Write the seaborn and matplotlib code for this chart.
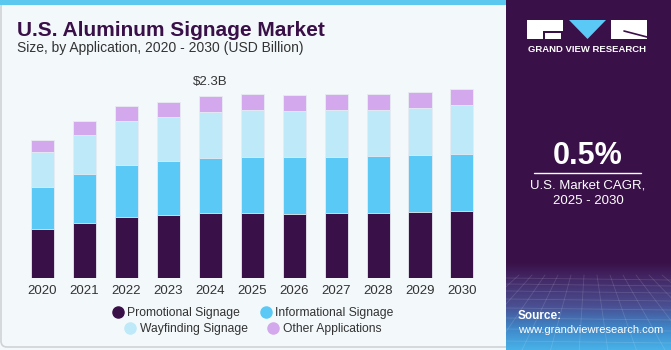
import numpy as np
import pandas as pd
import matplotlib
matplotlib.use("Agg")
import matplotlib.pyplot as plt
from matplotlib.patches import Rectangle, Polygon, FancyBboxPatch
from matplotlib.lines import Line2D
import seaborn as sns

# Data (USD Billion)
years = ["2020", "2021", "2022", "2023", "2024", "2025", "2026", "2027", "2028", "2029", "2030"]
promotional = [0.62, 0.70, 0.77, 0.79, 0.815, 0.82, 0.81, 0.815, 0.82, 0.83, 0.84]
informational = [0.53, 0.61, 0.66, 0.68, 0.70, 0.71, 0.71, 0.715, 0.715, 0.72, 0.73]
wayfinding = [0.44, 0.49, 0.55, 0.56, 0.58, 0.59, 0.59, 0.585, 0.59, 0.60, 0.61]
other = [0.15, 0.18, 0.185, 0.195, 0.20, 0.20, 0.20, 0.20, 0.20, 0.20, 0.20]
series = ["Promotional Signage", "Informational Signage", "Wayfinding Signage", "Other Applications"]
colors = ["#3a1048", "#5bc9f5", "#bde9f9", "#d4a8ec"]

BG = "#f3f8fb"
PURPLE = "#3a1048"

df = pd.DataFrame({"year": years, "Promotional Signage": promotional,
                   "Informational Signage": informational,
                   "Wayfinding Signage": wayfinding, "Other Applications": other})
cum = df[series].cumsum(axis=1)

sns.set_theme(style="white")
plt.rcParams["font.family"] = ["Liberation Sans", "DejaVu Sans"]

W, H = 671, 350
fig = plt.figure(figsize=(W / 100, H / 100), dpi=100)
fig.patch.set_facecolor(BG)

# frame for the left card
frame = fig.add_axes([0, 0, 1, 1])
frame.set_xlim(0, W)
frame.set_ylim(H, 0)
frame.axis("off")
frame.add_patch(FancyBboxPatch((1, 1), 510, 346, boxstyle="round,pad=0,rounding_size=6",
                               facecolor=BG, edgecolor="#cfd3d6", lw=1.2))
frame.add_patch(Rectangle((0, 0), 510, 5, facecolor="#5bc8f0", edgecolor="none"))

# chart axes: baseline at y=278px, bar pitch ~42px
ax = fig.add_axes([21.5 / W, (H - 278) / H, 461.4 / W, 198.2 / H])
ax.set_facecolor("none")
for name, col in reversed(list(zip(series, colors))):
    sns.barplot(x=df["year"], y=cum[name], color=col, width=0.55, ax=ax,
                edgecolor="#e8ecf2", linewidth=0.6, saturation=1)
ax.set_xlim(-0.5, 10.5)
ax.set_ylim(0, 2.5)
ax.set_xlabel("")
ax.set_ylabel("")
ax.set_yticks([])
ax.tick_params(axis="x", length=0, labelsize=9.5, labelcolor="#333333", pad=5)
sns.despine(ax=ax, left=True, bottom=True)
ax.text(4, cum.iloc[4, -1] + 0.1, "$2.3B", ha="center", va="bottom", fontsize=9.5, color="#333333")

# titles
fig.text(17 / W, 1 - 30 / H, "U.S. Aluminum Signage Market", fontsize=15, fontweight="bold",
         color=PURPLE, va="center", ha="left")
fig.text(17 / W, 1 - 48 / H, "Size, by Application, 2020 - 2030 (USD Billion)", fontsize=10,
         color="#333333", va="center", ha="left")

# legend in two centred rows
def handle(c):
    return Line2D([], [], marker="o", ls="none", markersize=8, markerfacecolor=c, markeredgecolor=c)

for i, yy in enumerate([313, 329]):
    fig.legend([handle(colors[2 * i]), handle(colors[2 * i + 1])], series[2 * i:2 * i + 2],
               loc="center", bbox_to_anchor=(252 / W, 1 - yy / H), ncol=2, frameon=False,
               fontsize=8.7, handletextpad=0.2, columnspacing=1.5, handlelength=1.2,
               borderpad=0, labelcolor="#333333")

# right panel
side = fig.add_axes([506 / W, 0, (W - 506) / W, 1])
side.set_xlim(506, W)
side.set_ylim(H, 0)
side.axis("off")
side.add_patch(Rectangle((506, 0), W - 506, 262, facecolor=PURPLE, edgecolor="none", zorder=0))
grad = np.linspace(0, 1, 200)[:, None]
cmap = matplotlib.colors.LinearSegmentedColormap.from_list(
    "g", [PURPLE, "#45306f", "#4a4f92", "#3f86c8", "#48b2e8"], N=256)
side.imshow(grad, cmap=cmap, extent=[506, W, 350, 262], aspect="auto", zorder=0,
            vmin=0, vmax=1, interpolation="bilinear")
# faint mesh at the bottom
for k in range(14):
    xx = 506 + k * 13
    side.plot([xx, 588 + (xx - 588) * 2.2], [275, 350], color="white", alpha=0.13, lw=0.6, zorder=2)
for yy in [278, 284, 291, 299, 308, 318, 329, 341]:
    side.plot([506, W], [yy, yy + 2], color="white", alpha=0.13, lw=0.6, zorder=2)
side.set_xlim(506, W)
side.set_ylim(H, 0)

# logo
side.add_patch(Rectangle((527, 20), 36, 19, facecolor="white", edgecolor="none", zorder=3))
side.add_patch(Rectangle((543, 31), 20, 8, facecolor=PURPLE, edgecolor="none", zorder=4))
side.add_patch(Rectangle((545, 33), 16, 6, facecolor="white", edgecolor="none", zorder=5))
side.add_patch(Polygon([[569, 20], [606, 20], [587.5, 39]], facecolor="#5bc9f5", edgecolor="none", zorder=3))
side.add_patch(Rectangle((611, 20), 36, 19, facecolor="white", edgecolor="none", zorder=3))
side.plot([624, 647], [31, 37], color=PURPLE, lw=1.2, zorder=4)
side.text(587.5, 50, "GRAND VIEW RESEARCH", ha="center", va="center", color="white",
          fontsize=6.8, fontweight="bold", zorder=4)

side.text(588, 156, "0.5%", ha="center", va="center", color="white", fontsize=22,
          fontweight="bold", zorder=4)
side.plot([534, 641], [173, 173], color="white", lw=1, zorder=4)
side.text(588, 186, "U.S. Market CAGR,", ha="center", va="center", color="white", fontsize=9.5, zorder=4)
side.text(588, 201, "2025 - 2030", ha="center", va="center", color="white", fontsize=9.5, zorder=4)
side.text(518, 316, "Source:", ha="left", va="center", color="white", fontsize=8.5,
          fontweight="bold", zorder=4)
side.text(518, 330, "www.grandviewresearch.com", ha="left", va="center", color="white",
          fontsize=8, zorder=4)

fig.savefig("out.png", dpi=100, facecolor=fig.get_facecolor())
